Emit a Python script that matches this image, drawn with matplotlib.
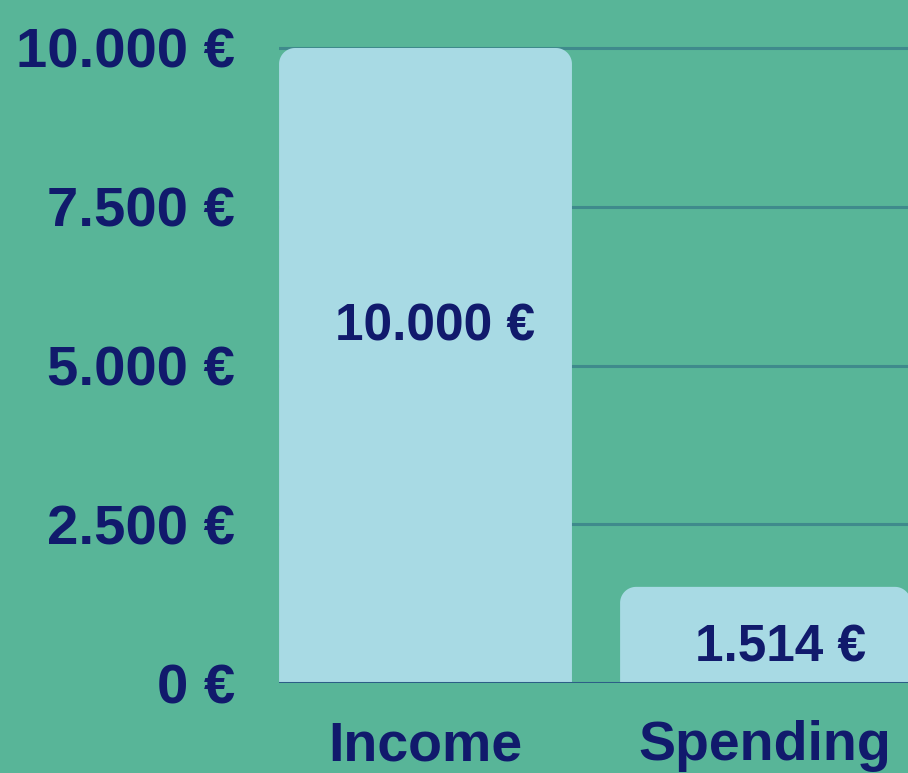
import numpy as np
import matplotlib
matplotlib.use("Agg")
import matplotlib.pyplot as plt
from matplotlib.path import Path
from matplotlib.patches import PathPatch

categories = ["Income", "Spending"]
values = [10000, 1514]
bar_labels = ["10.000 €", "1.514 €"]
yticks = [0, 2500, 5000, 7500, 10000]
ytick_labels = ["0 €", "2.500 €", "5.000 €", "7.500 €", "10.000 €"]

bg = "#58b598"
bar_color = "#a8dae4"
text_color = "#111a6c"
grid_color = "#3f8a8c"
axis_color = "#2c5e86"

plt.rcParams['font.family'] = ['Liberation Sans', 'DejaVu Sans']
plt.rcParams['font.weight'] = 'bold'

W, H = 908, 773
fig = plt.figure(figsize=(W / 100, H / 100), dpi=100, facecolor=bg)
ax = fig.add_axes([279 / W, (H - 683) / H, 629 / W, 683 / H], facecolor=bg)

xmin, xmax = -0.4322, 1.4233
ymax = 10000 * 683 / 635
ax.set_xlim(xmin, xmax)
ax.set_ylim(0, ymax)

# pixel -> data scale for rounded corners
px_x = (xmax - xmin) / 629
px_y = ymax / 683
radius = 16
width = 0.864


def rounded_top_bar(x0, x1, top, rx, ry, n=20):
    t = np.linspace(0, np.pi / 2, n)
    pts = [(x0, 0)]
    # left-top corner
    for a in t:
        pts.append((x0 + rx - rx * np.cos(a), top - ry + ry * np.sin(a)))
    # right-top corner
    for a in t[::-1]:
        pts.append((x1 - rx + rx * np.cos(a), top - ry + ry * np.sin(a)))
    pts.append((x1, 0))
    pts.append((x0, 0))
    codes = [Path.MOVETO] + [Path.LINETO] * (len(pts) - 2) + [Path.CLOSEPOLY]
    return Path(pts, codes)


for i, v in enumerate(values):
    p = rounded_top_bar(i - width / 2 + (0.006 if i else 0), i + width / 2, v,
                        radius * px_x, radius * px_y)
    ax.add_patch(PathPatch(p, facecolor=bar_color, edgecolor='none', zorder=2))

for yv in yticks[1:]:
    ax.axhline(yv, color=grid_color, lw=2.2, zorder=1)
ax.axhline(0, color=axis_color, lw=2.2, zorder=3)

label_pos = [(0.027, 5600), (1.046, 545)]
for (lx, ly), s in zip(label_pos, bar_labels):
    ax.text(lx, ly, s, ha='center', va='center', fontsize=37,
            fontweight='bold', color=text_color, zorder=4)

ax.set_yticks(yticks)
ax.set_yticklabels(ytick_labels)
ax.set_xticks(range(len(categories)))
ax.set_xticklabels(categories)
ax.tick_params(axis='y', length=0, pad=31.5, labelsize=40.5, labelcolor=text_color)
ax.tick_params(axis='x', length=0, pad=27, labelsize=40, labelcolor=text_color)
for lbl in ax.get_xticklabels() + ax.get_yticklabels():
    lbl.set_fontweight('bold')
for s in ax.spines.values():
    s.set_visible(False)

fig.savefig("out.png", dpi=100, facecolor=bg)
